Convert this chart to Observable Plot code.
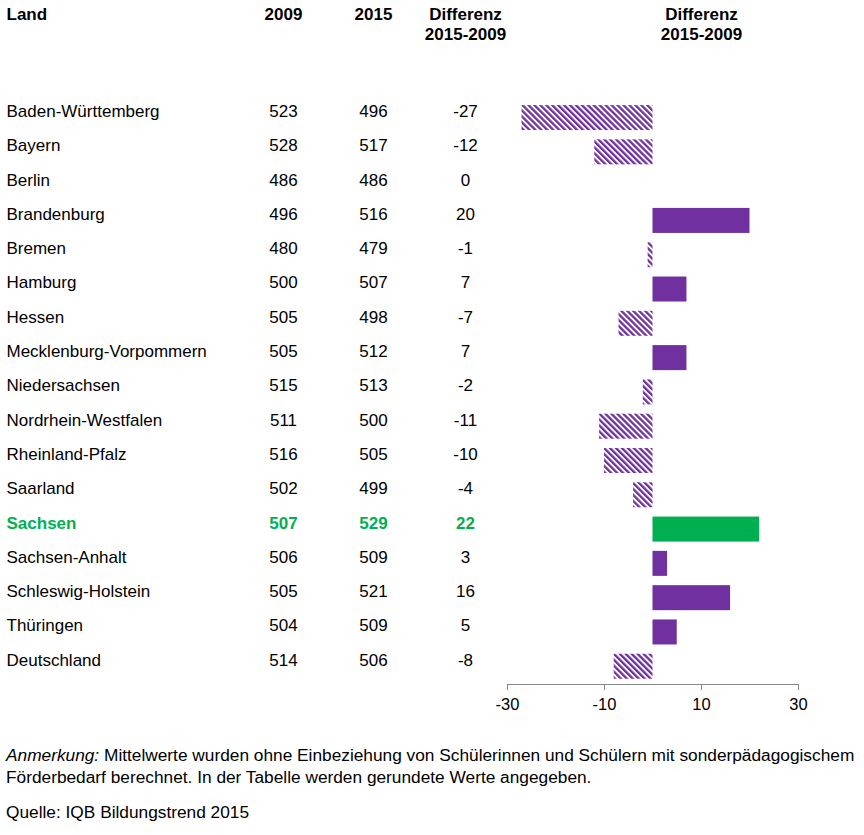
<!DOCTYPE html>
<html>
<head>
<meta charset="utf-8">
<script src="https://cdn.jsdelivr.net/npm/d3@7"></script>
<script src="https://cdn.jsdelivr.net/npm/@observablehq/plot@0.6"></script>
<style>
  body { margin: 0; background: #fff; font-family: "Liberation Sans", Arial, sans-serif; }
  #chart svg { display: block; }
  .caption { margin: 24px 0 0 6px; font-size: 17.3px; line-height: 22px; color: #000; white-space: nowrap; }
  .caption p { margin: 0; }
  .caption .src { margin-top: 13px; }
</style>
</head>
<body>
<div id="chart"></div>
<div class="caption">
  <p><i>Anmerkung:</i> Mittelwerte wurden ohne Einbeziehung von Schülerinnen und Schülern mit sonderpädagogischem<br>Förderbedarf berechnet. In der Tabelle werden gerundete Werte angegeben.</p>
  <p class="src">Quelle: IQB Bildungstrend 2015</p>
</div>
<script>
const lands = ["Baden-Württemberg","Bayern","Berlin","Brandenburg","Bremen","Hamburg","Hessen","Mecklenburg-Vorpommern","Niedersachsen","Nordrhein-Westfalen","Rheinland-Pfalz","Saarland","Sachsen","Sachsen-Anhalt","Schleswig-Holstein","Thüringen","Deutschland"];
const v2009 = [523,528,486,496,480,500,505,505,515,511,516,502,507,506,505,504,514];
const v2015 = [496,517,486,516,479,507,498,512,513,500,505,499,529,509,521,509,506];
const diff  = [-27,-12,0,20,-1,7,-7,7,-2,-11,-10,-4,22,3,16,5,-8];
const highlight = "Sachsen";
const axisTicks = [-30,-10,10,30];
const headers = ["Land","2009","2015","Differenz\n2015-2009","Differenz\n2015-2009"];

const rows = lands.map((land, i) => ({land, a: v2009[i], b: v2015[i], d: diff[i], hl: land === highlight}));
const normal = rows.filter(r => !r.hl);
const hi = rows.filter(r => r.hl);

const PURPLE = "#7030A0", GREEN = "#00B050";
const W = 864, H = 720;
const ML = 507, MR = 66, MB = 36;
const font = "Liberation Sans, Arial, sans-serif";
const fs = 17;

const colX = {land: 6, a: 283, b: 373, d: 465, chart: 701};
const off = x => x - ML;

function col(data, key, opts) {
  return Plot.text(data, {
    y: "land", text: key, frameAnchor: "left", dy: -6.5, fontSize: fs, ...opts
  });
}
function head(label, x, anchor) {
  return Plot.text([label], {text: d => d, frameAnchor: "top-left", dx: off(x), dy: 5, lineAnchor: "top",
    textAnchor: anchor, fontWeight: "bold", fontSize: fs, lineHeight: 1.2, fill: "#000"});
}

const marks = [
  Plot.frame({anchor: "bottom", stroke: "#868686"}),
  Plot.axisX({ticks: axisTicks, tickSize: 6, tickPadding: 8, stroke: "#868686", fill: "#000", fontSize: 16.5, label: null, tickFormat: d => String(d)}),
  Plot.barX(rows.filter(r => r.d < 0), {x: "d", y: "land", fill: "url(#hatch)"}),
  Plot.barX(rows.filter(r => r.d > 0 && !r.hl), {x: "d", y: "land", fill: PURPLE}),
  Plot.barX(rows.filter(r => r.d > 0 && r.hl), {x: "d", y: "land", fill: GREEN}),
  col(normal, "land", {dx: off(colX.land), textAnchor: "start", fill: "#000"}),
  col(normal, "a", {dx: off(colX.a), textAnchor: "middle", fill: "#000"}),
  col(normal, "b", {dx: off(colX.b), textAnchor: "middle", fill: "#000"}),
  col(normal, "d", {dx: off(colX.d), textAnchor: "middle", fill: "#000"}),
  col(hi, "land", {dx: off(colX.land), textAnchor: "start", fill: GREEN, fontWeight: "bold"}),
  col(hi, "a", {dx: off(colX.a), textAnchor: "middle", fill: GREEN, fontWeight: "bold"}),
  col(hi, "b", {dx: off(colX.b), textAnchor: "middle", fill: GREEN, fontWeight: "bold"}),
  col(hi, "d", {dx: off(colX.d), textAnchor: "middle", fill: GREEN, fontWeight: "bold"}),
  head(headers[0], colX.land, "start"),
  head(headers[1], colX.a, "middle"),
  head(headers[2], colX.b, "middle"),
  head(headers[3], colX.d, "middle"),
  head(headers[4], colX.chart, "middle")
];

const chart = Plot.plot({
  width: W, height: H,
  marginLeft: ML, marginRight: MR, marginTop: 0, marginBottom: MB,
  style: {fontFamily: font, fontSize: "17px", color: "#000", background: "#fff", overflow: "visible"},
  x: {domain: [-30, 30], axis: null},
  y: {domain: lands, range: [100.4, 683.4], paddingInner: 0.271, paddingOuter: 0.1355, round: false, axis: null},
  marks
});

// hatch pattern definition
const ns = "http://www.w3.org/2000/svg";
const P = 4.2;
const defs = document.createElementNS(ns, "defs");
const pat = document.createElementNS(ns, "pattern");
pat.setAttribute("id", "hatch");
pat.setAttribute("patternUnits", "userSpaceOnUse");
pat.setAttribute("width", P);
pat.setAttribute("height", P);
pat.setAttribute("patternTransform", "rotate(-45)");
const bg = document.createElementNS(ns, "rect");
bg.setAttribute("width", P); bg.setAttribute("height", P); bg.setAttribute("fill", "#fff");
const st = document.createElementNS(ns, "rect");
st.setAttribute("width", 2.3); st.setAttribute("height", P); st.setAttribute("fill", PURPLE);
pat.appendChild(bg); pat.appendChild(st);
defs.appendChild(pat);
chart.insertBefore(defs, chart.firstChild);

document.getElementById("chart").appendChild(chart);
</script>
</body>
</html>
